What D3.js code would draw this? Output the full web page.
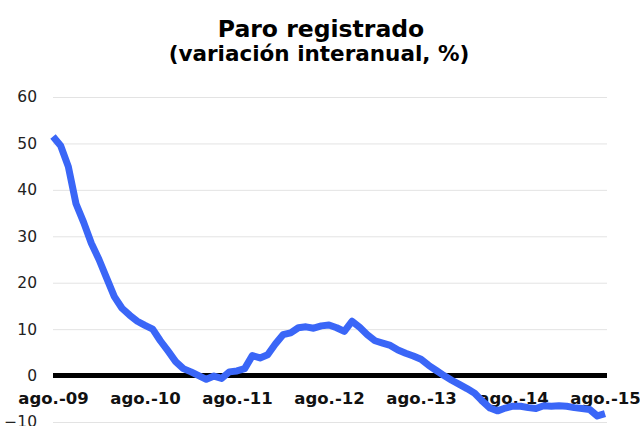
<!DOCTYPE html>
<html><head><meta charset="utf-8">
<script src="https://cdn.jsdelivr.net/npm/d3@7"></script>
<style>body{margin:0;background:#fff}svg{display:block}</style>
</head><body>
<svg id="c" width="640" height="426"></svg>
<script>
const title = "Paro registrado";
const subtitle = "(variación interanual, %)";
const xLabels = ["ago.-09","ago.-10","ago.-11","ago.-12","ago.-13","ago.-14","ago.-15"];
const yTicks = [-10,0,10,20,30,40,50,60];
// Monthly values, Aug 2009 - Aug 2015
const values = [
 51.5,49.5,45.0,37.0,33.0,28.5,25.0,21.0,17.0,14.5,13.0,11.7,
 10.8,10.0,7.5,5.3,3.0,1.5,0.8,0.0,-0.8,-0.1,-0.6,0.8,
 1.0,1.5,4.3,3.8,4.5,6.8,8.8,9.2,10.3,10.5,10.2,10.7,
 10.9,10.3,9.5,11.7,10.4,8.8,7.5,7.0,6.5,5.5,4.8,4.2,
 3.5,2.2,1.1,0.0,-1.0,-1.9,-2.8,-3.8,-5.5,-7.0,-7.6,-7.0,
 -6.6,-6.6,-6.9,-7.1,-6.5,-6.6,-6.5,-6.6,-6.9,-7.1,-7.3,-8.7,
 -8.2
];

const svg = d3.select("#c");
const x = d3.scaleLinear().domain([0, values.length-1]).range([53, 605]);
const y = d3.scaleLinear().domain([-10, 60]).range([422, 97]);
const font = "'DejaVu Sans', Verdana, sans-serif";

svg.append("text").attr("x",321).attr("y",37).attr("text-anchor","middle")
  .style("font-family",font).style("font-weight","bold").style("font-size","23.5px").text(title);
svg.append("text").attr("x",319).attr("y",61).attr("text-anchor","middle")
  .style("font-family",font).style("font-weight","bold").style("font-size","21.5px").text(subtitle);

const yAxis = d3.axisLeft(y).tickValues(yTicks).tickSize(0).tickPadding(16).tickFormat(d3.format("d"));
const ga = svg.append("g").attr("transform","translate(53,0)").call(yAxis);
ga.select(".domain").remove();
ga.selectAll(".tick").append("line").attr("stroke","#e3e3e3").attr("stroke-width",1).attr("x1",0).attr("x2",554);
ga.selectAll(".tick text").style("font-family",font).style("font-size","15.5px").attr("fill","#222");

// zero line
svg.append("line").attr("x1",53).attr("x2",607).attr("y1",y(0)).attr("y2",y(0))
  .attr("stroke","#000").attr("stroke-width",5);

// x labels
const xAxis = d3.axisBottom(x).tickValues(xLabels.map((d,i)=>i*12)).tickSize(0).tickPadding(15)
  .tickFormat((d,i)=>xLabels[i]);
const gx = svg.append("g").attr("transform",`translate(0,${y(0)+2})`).call(xAxis);
gx.select(".domain").remove();
gx.selectAll(".tick text").style("font-family",font).style("font-weight","bold").style("font-size","16.5px").attr("fill","#111");

const line = d3.line().x((d,i)=>x(i)).y(d=>y(d)).curve(d3.curveLinear);
svg.append("path").datum(values).attr("d",line).attr("fill","none")
  .attr("stroke","#3a66f7").attr("stroke-width",7).attr("stroke-linejoin","round").attr("stroke-linecap","butt");
</script>
</body></html>
